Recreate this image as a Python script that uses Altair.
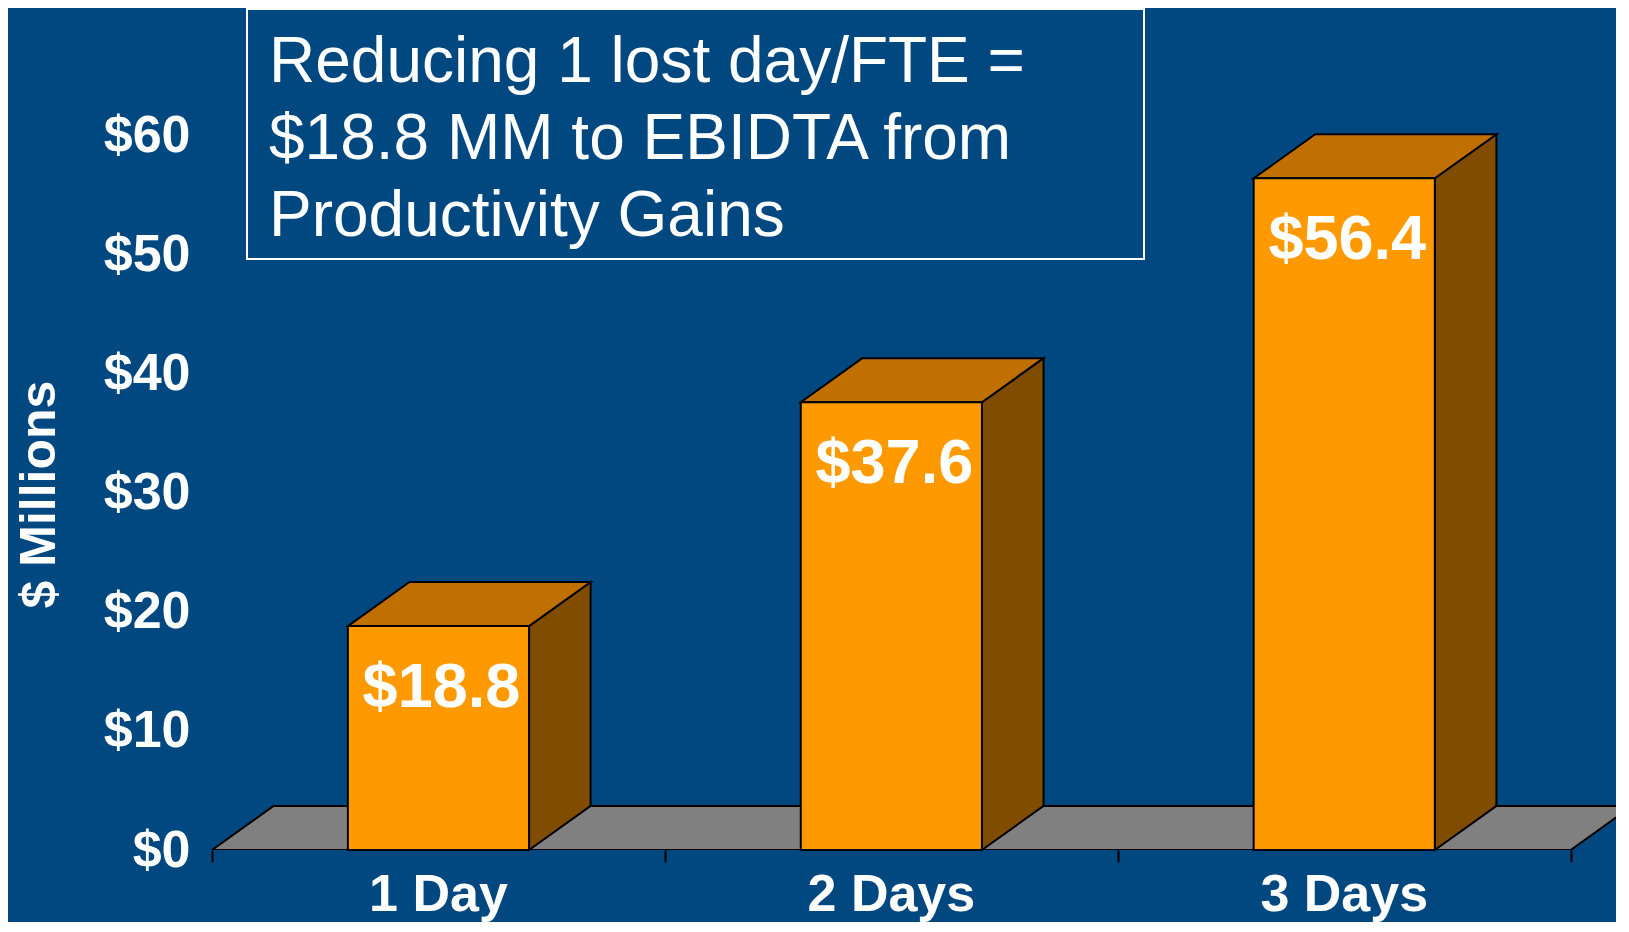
import altair as alt
import pandas as pd

# ---- data ----
categories = ["1 Day", "2 Days", "3 Days"]
values = [18.8, 37.6, 56.4]
value_labels = ["$18.8", "$37.6", "$56.4"]
y_ticks = [0, 10, 20, 30, 40, 50, 60]
x_ticks = [0, 1, 2, 3]
box_lines = ["Reducing 1 lost day/FTE =", "$18.8 MM to EBIDTA from", "Productivity Gains"]
y_title = "$ Millions"

# ---- style / geometry constants ----
BG = "#00487F"
FRONT = "#FF9900"
TOP = "#C07000"
SIDE = "#804C00"
FLOOR = "#808080"
FONT = "Liberation Sans"
BAR_W = 0.4      # bar width as fraction of a category band
DX = 0.136       # 3-D depth, x (band units)
DY = 3.7         # 3-D depth, y (data units)
LW = 2

xs = alt.Scale(domain=[0, 3.1], nice=False, zero=False)
ys = alt.Scale(domain=[0, 70.7], nice=False, zero=False)

y_axis = alt.Axis(
    values=y_ticks, labelExpr="'$' + datum.value", ticks=False, domain=False, grid=False,
    labelFontSize=52, labelFont=FONT, labelFontWeight="bold", labelColor="white",
    labelPadding=22, title=y_title, titleFontSize=50, titleFont=FONT, titleFontWeight="bold",
    titleColor="white", titleAngle=270, titleX=-173, titleY=486, titleAlign="center",
    titleBaseline="middle")
x_axis = alt.Axis(
    values=x_ticks, labels=False, domain=False, grid=False, ticks=True,
    tickSize=12, tickColor="black", tickWidth=2, title=None)

pos = [i + 0.5 for i in range(len(categories))]
x0s = [p - BAR_W / 2 for p in pos]
x1s = [p + BAR_W / 2 for p in pos]
bars = pd.DataFrame({"cat": categories, "value": values, "label": value_labels,
                     "pos": pos, "x0": x0s, "x1": x1s})

top_rows, side_rows = [], []
for c, v, a, b in zip(categories, values, x0s, x1s):
    top_rows.append({"cat": c, "y": v, "xa": a, "xb": b})
    top_rows.append({"cat": c, "y": v + DY, "xa": a + DX, "xb": b + DX})
    side_rows.append({"cat": c, "x": b, "ya": 0.0, "yb": v})
    side_rows.append({"cat": c, "x": b + DX, "ya": DY, "yb": v + DY})
tops = pd.DataFrame(top_rows)
sides = pd.DataFrame(side_rows)
n = len(categories)
floor = pd.DataFrame({"y": [0.0, DY], "xa": [0.0, DX], "xb": [float(n), n + DX]})

floor_layer = alt.Chart(floor).mark_area(
    orient="horizontal", fill=FLOOR, stroke="black", strokeWidth=LW, clip=True
).encode(
    y=alt.Y("y:Q", scale=ys, axis=y_axis),
    x=alt.X("xa:Q", scale=xs, axis=x_axis),
    x2="xb:Q",
)

side_layer = alt.Chart(sides).mark_area(
    orient="vertical", fill=SIDE, stroke="black", strokeWidth=LW
).encode(
    x=alt.X("x:Q", scale=xs, axis=x_axis),
    y=alt.Y("ya:Q", scale=ys, axis=y_axis),
    y2="yb:Q",
    detail="cat:N",
)

top_layer = alt.Chart(tops).mark_area(
    orient="horizontal", fill=TOP, stroke="black", strokeWidth=LW
).encode(
    y=alt.Y("y:Q", scale=ys, axis=y_axis),
    x=alt.X("xa:Q", scale=xs, axis=x_axis),
    x2="xb:Q",
    detail="cat:N",
)

front_layer = alt.Chart(bars).mark_rect(
    fill=FRONT, stroke="black", strokeWidth=LW
).encode(
    x=alt.X("x0:Q", scale=xs, axis=x_axis),
    x2="x1:Q",
    y=alt.Y("value:Q", scale=ys, axis=y_axis),
    y2=alt.datum(0),
)

value_text = alt.Chart(bars).mark_text(
    font=FONT, fontSize=63, fontWeight="bold", color="white", baseline="alphabetic",
    align="center", dy=81, dx=3
).encode(
    x=alt.X("pos:Q", scale=xs, axis=x_axis),
    y=alt.Y("value:Q", scale=ys, axis=y_axis),
    text="label:N",
)

cat_text = alt.Chart(bars).mark_text(
    font=FONT, fontSize=52, fontWeight="bold", color="white", baseline="alphabetic",
    align="center"
).encode(
    x=alt.X("pos:Q", scale=xs, axis=x_axis),
    y=alt.value(903),
    text="cat:N",
)

box = alt.Chart(pd.DataFrame({"k": [0]})).mark_rect(
    fill=BG, fillOpacity=0, stroke="white", strokeWidth=2
).encode(
    x=alt.value(35), x2=alt.value(932), y=alt.value(1), y2=alt.value(251)
)

box_text = alt.Chart(pd.DataFrame({"k": [0]})).mark_text(
    font=FONT, fontSize=64, color="white", align="left", baseline="alphabetic", lineHeight=77
).encode(
    x=alt.value(57), y=alt.value(74), text=alt.value(box_lines)
)

chart = alt.layer(
    floor_layer, side_layer, top_layer, front_layer, value_text, cat_text, box, box_text
).properties(
    width=1404, height=842,
    padding={"left": 204, "top": 0, "right": 0, "bottom": 72},
    autosize=alt.AutoSizeParams(type="none"),
    background=BG,
).configure_view(stroke=None)

chart.save("out.html", embed_options={"renderer": "svg", "actions": False})
